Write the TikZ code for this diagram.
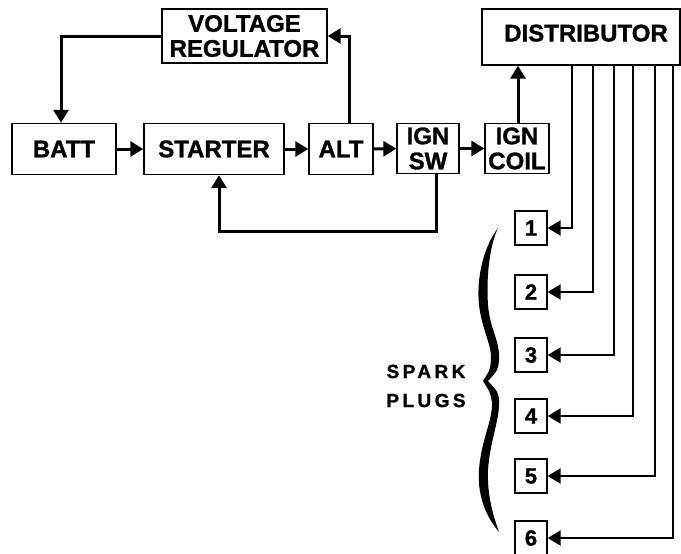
\documentclass[tikz,border=0pt]{standalone}
\usepackage{fontspec}
\setmainfont{Liberation Sans}[BoldFeatures={FakeBold=1.2}]
\newfontfamily\spacedfont{Liberation Sans}[LetterSpace=18,BoldFeatures={FakeBold=1.2}]
\usetikzlibrary{arrows.meta}
\begin{document}
\begin{tikzpicture}[x=1pt,y=-1pt,
  box/.style={draw,line width=1.4pt,inner sep=0pt,align=center,
    font=\bfseries\fontsize{24}{25}\selectfont},
  plug/.style={draw,line width=1.4pt,inner sep=0pt,minimum width=32pt,minimum height=34pt,
    font=\bfseries\fontsize{22}{24}\selectfont},
  conn/.style={line width=3pt,-{Triangle[length=13pt,width=15pt]}},
  wire/.style={line width=2.3pt,-{Triangle[length=13pt,width=15pt]}}]
\useasboundingbox (0,0) rectangle (681,554);
% boxes
\node[box,minimum width=165pt,minimum height=54pt] (vr) at (244.5,36) {VOLTAGE\\REGULATOR};
\node[box,minimum width=104pt,minimum height=51pt] (batt) at (64,149) {BATT};
\node[box,minimum width=140pt,minimum height=51pt] (starter) at (214,149) {STARTER};
\node[box,minimum width=64pt,minimum height=51pt] (alt) at (341,149) {ALT};
\node[box,minimum width=62pt,minimum height=50pt] (ignsw) at (428,148.5) {IGN\\SW};
\node[box,minimum width=64pt,minimum height=50pt] (igncoil) at (517,148.5) {IGN\\COIL};
\node[box,minimum width=198pt,minimum height=56pt] (dist) at (581,37) {\hspace*{10pt}DISTRIBUTOR\rule[-8pt]{0pt}{1pt}};
% spark plugs
\node[plug] (p1) at (531,228) {1};
\node[plug] (p2) at (531,292) {2};
\node[plug] (p3) at (531,355) {3};
\node[plug] (p4) at (531,416) {4};
\node[plug] (p5) at (531,476) {5};
\node[plug] (p6) at (531,538) {6};
% connectors
\draw[conn] (vr.west) -| ([xshift=-3pt]batt.north);
\draw[conn] ([xshift=8pt]alt.north) |- (vr.east);
\draw[conn] (batt) -- (starter);
\draw[conn] (starter) -- (alt);
\draw[conn] (alt) -- (ignsw);
\draw[conn] (ignsw) -- (igncoil);
\draw[conn] ([xshift=8pt]ignsw.south) -- ++(0,57) -| ([xshift=5pt]starter.south);
\draw[conn] ([xshift=1pt]igncoil.north) -- ([xshift=1pt]igncoil.north |- dist.south);
% distributor wires
\draw[wire] (572,65) |- (p1.east);
\draw[wire] (593,65) |- (p2.east);
\draw[wire] (614,65) |- (p3.east);
\draw[wire] (633,65) |- (p4.east);
\draw[wire] (655,65) |- (p5.east);
\draw[wire] (673,65) |- (p6.east);
% brace
\fill (498,228) .. controls (485,245) and (476,275) .. (479,305)
  .. controls (482,330) and (492,345) .. (491,360)
  .. controls (490,370) .. (483,381)
  .. controls (490,392) .. (492,402)
  .. controls (493,420) and (481,440) .. (479,470)
  .. controls (477,500) and (489,520) .. (499,532)
  .. controls (493,515) and (487,495) .. (488,470)
  .. controls (490,440) and (500,420) .. (499,400)
  .. controls (498,392) .. (488,381)
  .. controls (498,370) .. (499,360)
  .. controls (500,340) and (490,330) .. (488,305)
  .. controls (486,275) and (490,245) .. (498,228) -- cycle;
\node[align=center,inner sep=0pt,font=\spacedfont\bfseries\fontsize{19}{29}\selectfont] (sp) at (426,386) {SPARK\\PLUGS};
\end{tikzpicture}
\end{document}
